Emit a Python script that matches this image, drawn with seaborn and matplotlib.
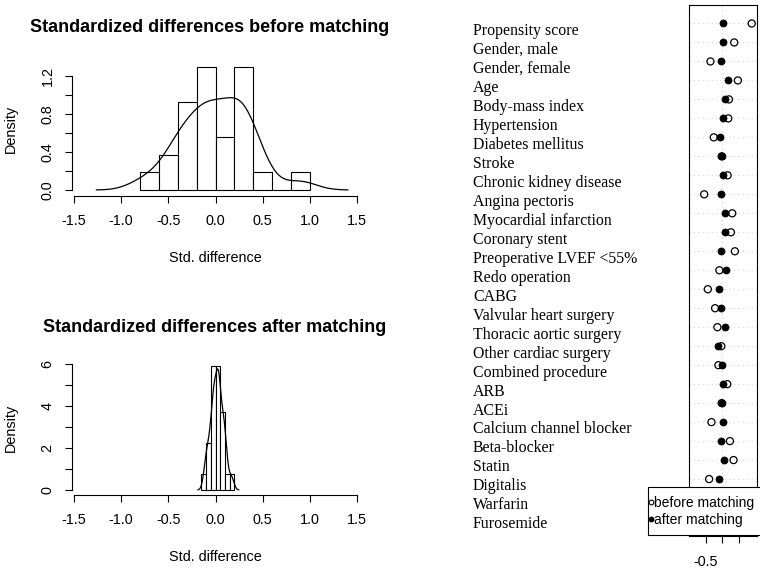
import numpy as np
import matplotlib
matplotlib.use('Agg')
import matplotlib.pyplot as plt
import matplotlib.transforms as mtransforms
from matplotlib.lines import Line2D
from matplotlib.patches import Rectangle
import seaborn as sns

# covariates, top to bottom
variables = [
    'Propensity score', 'Gender, male', 'Gender, female', 'Age', 'Body-mass index',
    'Hypertension', 'Diabetes mellitus', 'Stroke', 'Chronic kidney disease',
    'Angina pectoris', 'Myocardial infarction', 'Coronary stent',
    'Preoperative LVEF <55%', 'Redo operation', 'CABG', 'Valvular heart surgery',
    'Thoracic aortic surgery', 'Other cardiac surgery', 'Combined procedure',
    'ARB', 'ACEi', 'Calcium channel blocker', 'Beta-blocker', 'Statin',
    'Digitalis', 'Warfarin', 'Furosemide',
]
before_matching = [
    0.90, 0.37, -0.35, 0.48, 0.21, 0.19, -0.25, -0.01, 0.17, -0.54, 0.31, 0.27,
    0.39, -0.08, -0.43, -0.21, -0.14, -0.02, -0.11, 0.16, -0.01, -0.32, 0.24,
    0.35, -0.39, -0.76, -0.06,
]
after_matching = [
    0.04, 0.04, -0.04, 0.17, 0.09, 0.03, -0.06, -0.01, 0.04, -0.04, 0.09, 0.08,
    -0.02, 0.12, -0.08, -0.02, 0.095, -0.11, -0.005, 0.03, -0.003, 0.03, -0.02,
    0.07, -0.09, 0.02, 0.03,
]

before_bins = np.linspace(-0.8, 1.0, 10)
after_bins = np.linspace(-0.15, 0.2, 8)
hist_xticks = [-1.5, -1.0, -0.5, 0.0, 0.5, 1.0, 1.5]
before_yticks = [0.0, 0.2, 0.4, 0.6, 0.8, 1.0, 1.2]
before_ylabels = ['0.0', '', '0.4', '', '0.8', '', '1.2']
after_yticks = [0, 1, 2, 3, 4, 5, 6]
after_ylabels = ['0', '', '2', '', '4', '', '6']
dot_xticks = [-0.5, 0.0, 0.5]
dot_xlabels = ['-0.5', '', '']

W, H = 760, 573


def rect(left, top, right, bottom):
    return [left / W, 1 - bottom / H, (right - left) / W, (bottom - top) / H]


sns.set_theme(style='ticks', rc={
    'axes.edgecolor': 'black', 'xtick.color': 'black', 'ytick.color': 'black',
    'text.color': 'black', 'axes.labelcolor': 'black', 'axes.linewidth': 0.8,
    'xtick.major.width': 0.8, 'ytick.major.width': 0.8,
    'xtick.major.size': 5, 'ytick.major.size': 5,
})
plt.rcParams['font.family'] = ['Liberation Sans', 'DejaVu Sans']

fig = plt.figure(figsize=(7.6, 5.73), dpi=100)


def hist_panel(ax, values, bins, yticks, ylabels, ylim, title, title_x, title_y):
    values = np.asarray(values)
    sns.histplot(x=values, bins=bins, stat='density', color='white',
                 edgecolor='black', linewidth=0.8, alpha=1, ax=ax)
    # R's default bandwidth (bw.nrd0)
    sd = values.std(ddof=1)
    q75, q25 = np.percentile(values, [75, 25])
    bw = 0.9 * min(sd, (q75 - q25) / 1.34) * len(values) ** -0.2
    sns.kdeplot(x=values, bw_method=bw / sd, cut=3, color='black',
                linewidth=0.9, ax=ax)
    ax.set_xlim(-1.521, 1.521)
    ax.set_ylim(*ylim)
    sns.despine(ax=ax)
    ax.spines['left'].set_bounds(yticks[0], yticks[-1])
    ax.spines['bottom'].set_bounds(-1.5, 1.5)
    ax.set_xticks(hist_xticks, [f'{t:.1f}' for t in hist_xticks], fontsize=10.4)
    ax.set_yticks(yticks, ylabels, fontsize=10.4, rotation=90, va='center')
    ax.tick_params(axis='x', pad=8.3)
    ax.tick_params(axis='y', pad=7.5)
    ax.set_xlabel('Std. difference', fontsize=10.4)
    ax.set_ylabel('Density', fontsize=10.4)
    ax.xaxis.set_label_coords(0.498, -0.41)
    ax.yaxis.set_label_coords(-0.19, 0.5)
    ax.set_title(title, fontsize=13, fontweight='bold', x=title_x, y=title_y, pad=0)


ax1 = fig.add_axes(rect(72, 61.7, 359, 196))
hist_panel(ax1, before_matching, before_bins, before_yticks, before_ylabels,
           (-0.063, 1.35), 'Standardized differences before matching', 0.481, 1.219)

ax2 = fig.add_axes(rect(72, 360, 359, 495))
hist_panel(ax2, after_matching, after_bins, after_yticks, after_ylabels,
           (-0.238, 6.19), 'Standardized differences after matching', 0.498, 1.205)

# dot chart
ax3 = fig.add_axes(rect(689, 4.5, 757, 536))
rows = np.arange(len(variables), 0, -1)
ax3.set_xlim(-1.0, 1.06)
ax3.set_ylim(0, len(variables) + 1)
ax3.set_yticks(rows, [''] * len(rows))
ax3.tick_params(axis='y', length=0)
ax3.grid(axis='y', linestyle=(0, (1, 3)), color='lightgray', linewidth=0.8)
ax3.axvline(0, linestyle=(0, (1, 3)), color='lightgray', linewidth=0.8, zorder=1)
sns.scatterplot(x=before_matching, y=rows, marker='o', s=26, facecolor='none',
                edgecolor='black', linewidth=0.9, ax=ax3, zorder=3)
sns.scatterplot(x=after_matching, y=rows, marker='o', s=26, color='black',
                edgecolor='black', linewidth=0.5, ax=ax3, zorder=3)
ax3.set_xticks(dot_xticks, dot_xlabels, fontsize=10.4)
ax3.tick_params(axis='x', pad=8.6, length=5.3)
ax3.set_xlabel('')
ax3.set_ylabel('')
for s in ax3.spines.values():
    s.set_visible(True)
    s.set_linewidth(0.8)

trans = mtransforms.blended_transform_factory(fig.transFigure, ax3.transData)
for name, r in zip(variables, rows):
    ax3.text(473 / W, r - 0.6, name, transform=trans, ha='left', va='baseline',
             fontsize=11.4, family='Liberation Serif', clip_on=False)

# legend box
box = Rectangle((648 / W, 1 - 535 / H), 130 / W, 48 / H, transform=fig.transFigure,
                facecolor='white', edgecolor='black', linewidth=0.8, zorder=5)
fig.add_artist(box)
handles = [
    Line2D([], [], marker='o', ls='none', mfc='none', mec='black', ms=3.4, mew=0.8),
    Line2D([], [], marker='o', ls='none', mfc='black', mec='black', ms=3.4, mew=0.8),
]
leg = fig.legend(handles, ['before matching', 'after matching'], loc='upper left',
                 bbox_to_anchor=(648 / W, 1 - 496 / H), frameon=False, borderpad=0,
                 borderaxespad=0, handlelength=0.4, handletextpad=0.02,
                 labelspacing=0.2, fontsize=10)
leg.set_zorder(6)

fig.savefig('out.png', dpi=100)
